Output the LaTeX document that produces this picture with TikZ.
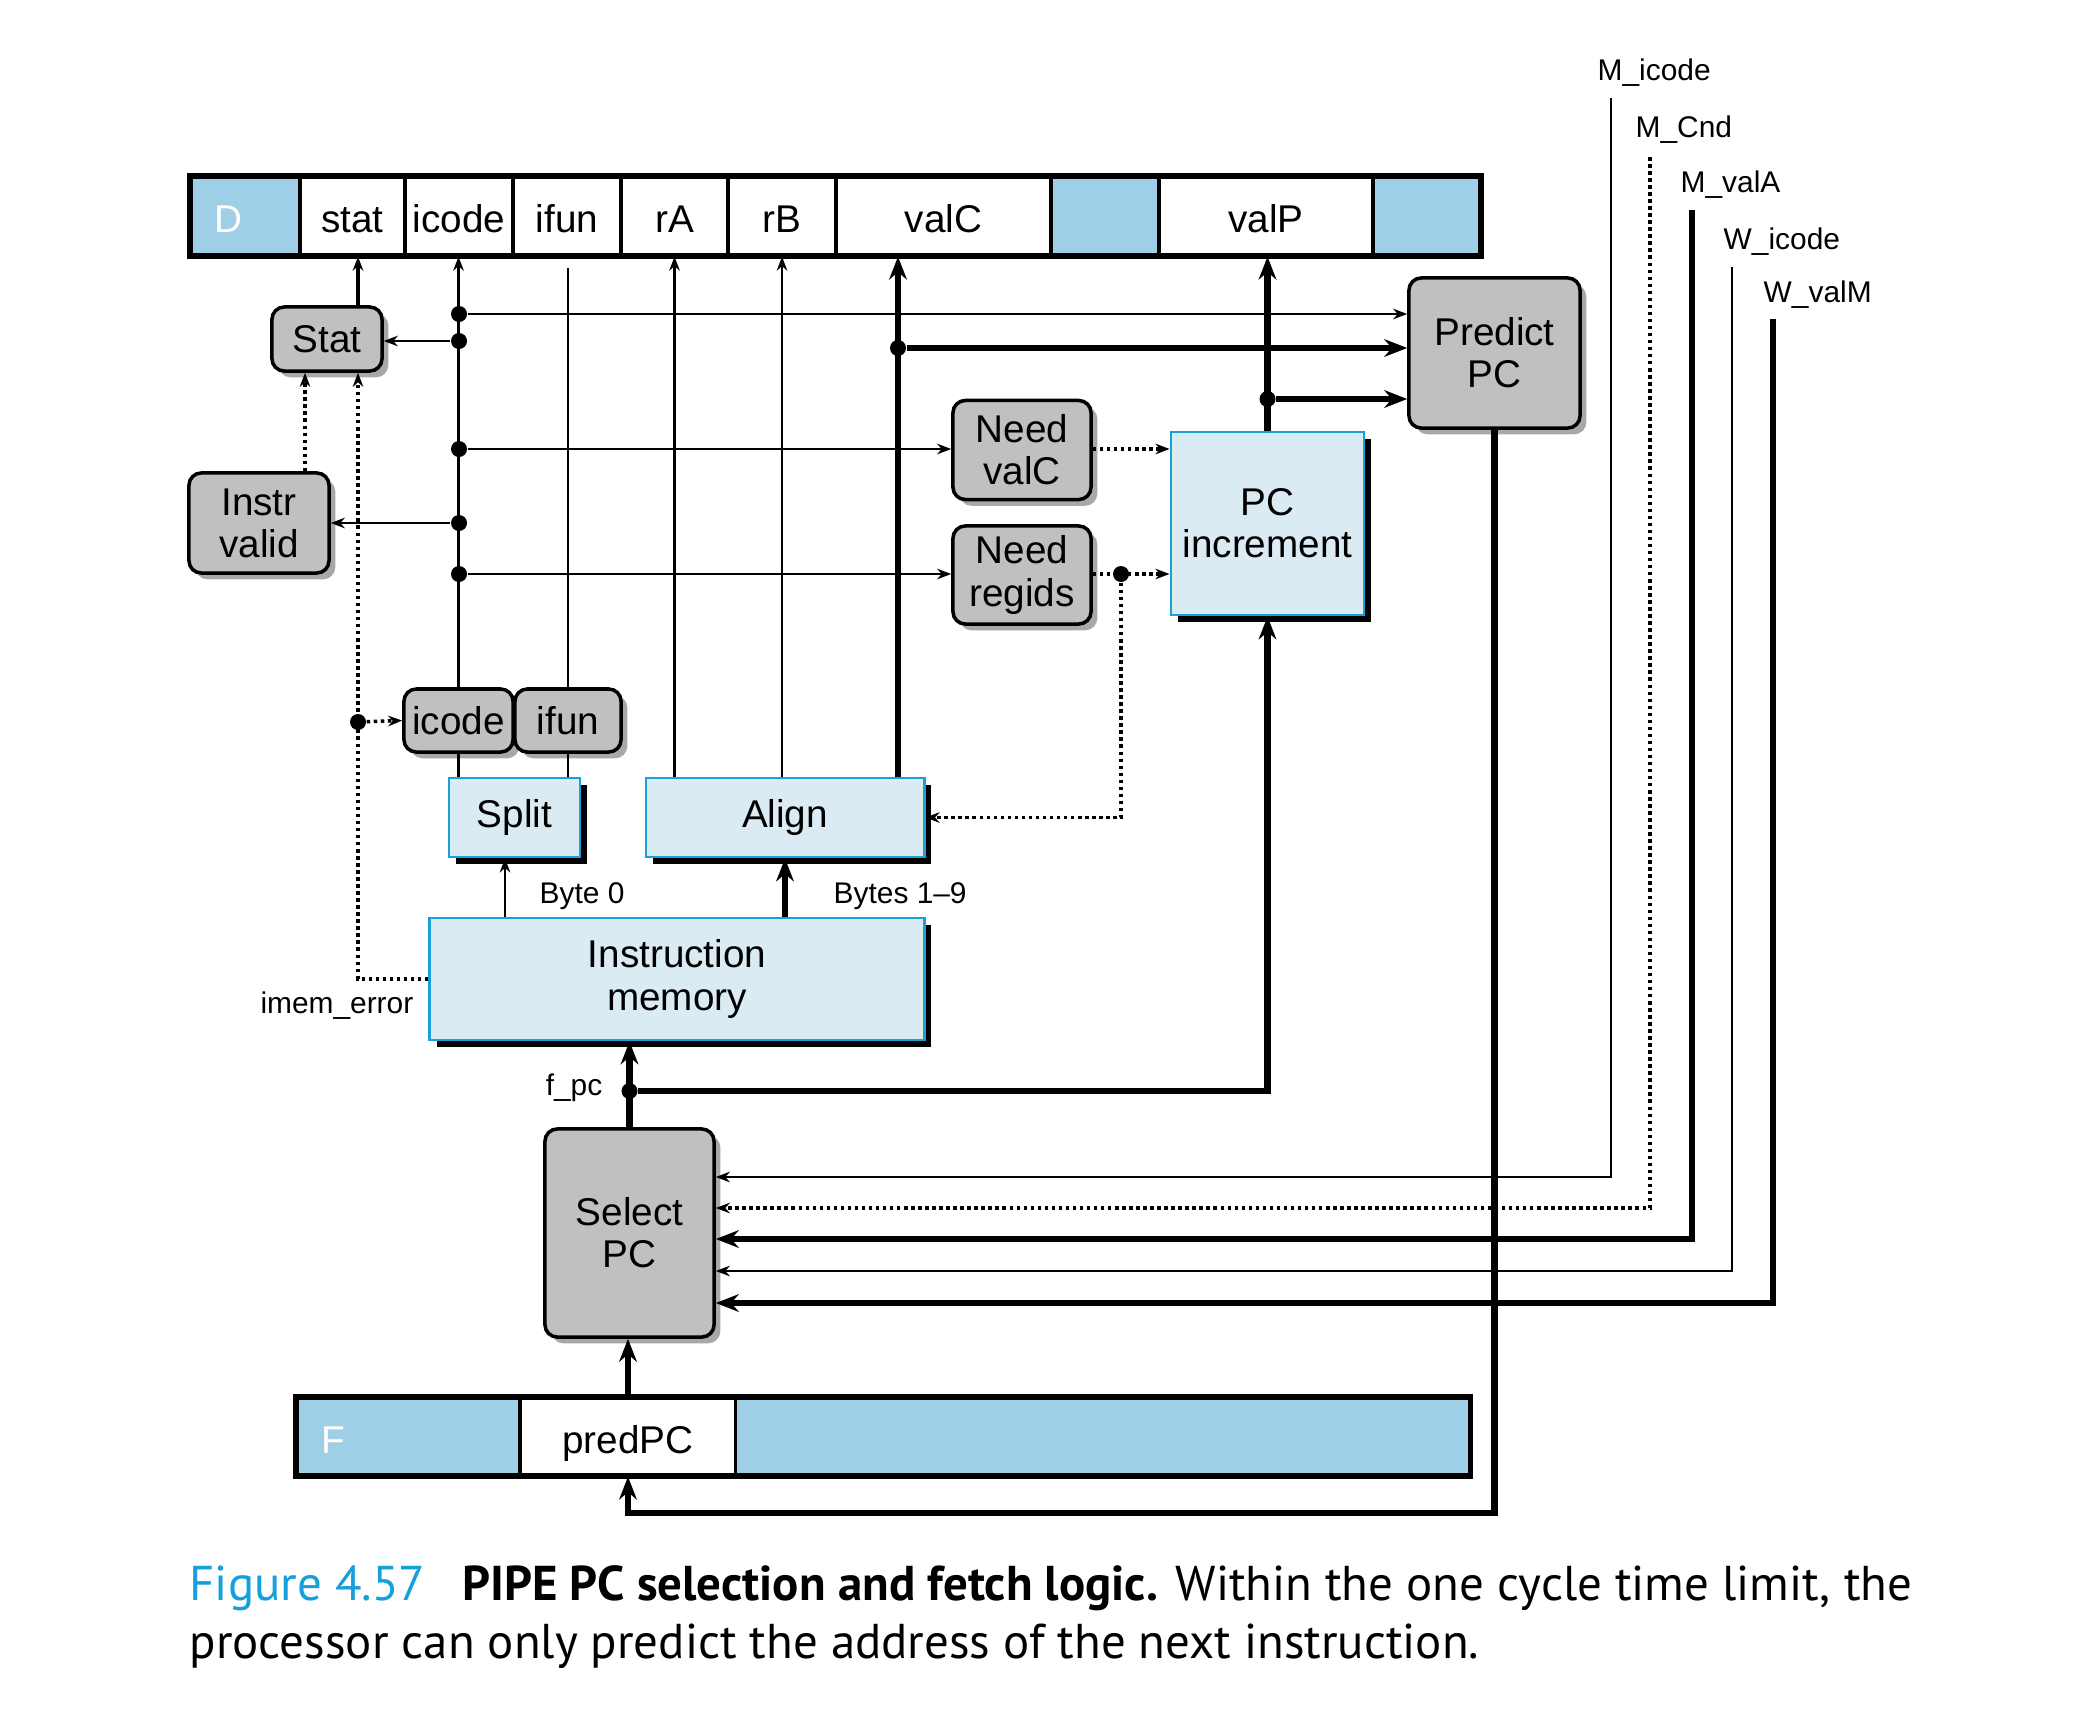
\documentclass[tikz,border=0pt]{standalone}
\usepackage{fontspec}
\setmainfont{Liberation Sans}
\newfontfamily\capfont{PT Sans}
\usetikzlibrary{arrows.meta,shadows}

\definecolor{regblue}{HTML}{9ECFE6}
\definecolor{logicfill}{HTML}{DAEBF3}
\definecolor{logicedge}{HTML}{1AA0D8}
\definecolor{ctlfill}{HTML}{C0C0C0}
\definecolor{ctlshade}{HTML}{A8A8A8}
\definecolor{figblue}{HTML}{15A0DB}

\begin{document}
\begin{tikzpicture}[x=0.01cm, y=-0.01cm,
  every node/.style={font=\fontsize{11}{12}\selectfont},
  cell/.style={draw, line width=0.9pt, inner sep=0pt, minimum height=0.78cm, text height=0.33cm, text depth=0cm},
  ctl/.style={draw, line width=1pt, rounded corners=3.5pt, fill=ctlfill, inner sep=0pt, align=center,
    drop shadow={shadow xshift=1.8pt, shadow yshift=-1.8pt, fill=ctlshade, opacity=1}},
  logic/.style={draw=logicedge, line width=0.8pt, fill=logicfill, inner sep=0pt, align=center,
    drop shadow={shadow xshift=2pt, shadow yshift=-2pt, fill=black, opacity=1}},
  junction/.style={circle, fill=black, inner sep=0pt, minimum size=0.16cm},
  sig/.style={font=\fontsize{8.5}{10}\selectfont, inner sep=0pt},
  wire/.style={line width=0.6pt, ->},
  bus/.style={line width=1.8pt, -{Stealth[length=6.5pt,width=5pt]}},
  ctrl/.style={line width=1pt, dash pattern=on 1pt off 1pt, ->},
  >={Stealth[length=4pt,width=3pt]}]
  \useasboundingbox (0,0) rectangle (2082,1724);

  \node[cell, fill=regblue, minimum width=1.09cm] (dD) at (245.5,216) {};
  \node[cell, draw=none, text=white] (dname) at (228,216) {D};
  \node[cell, fill=white, minimum width=1.05cm] (dstat) at (352.5,216) {stat};
  \node[cell, fill=white, minimum width=1.08cm] (dicode) at (459,216) {icode};
  \node[cell, fill=white, minimum width=1.08cm] (difun) at (567,216) {ifun};
  \node[cell, fill=white, minimum width=1.07cm] (drA) at (674.5,216) {rA};
  \node[cell, fill=white, minimum width=1.08cm] (drB) at (782,216) {rB};
  \node[cell, fill=white, minimum width=2.15cm] (dvalC) at (943.5,216) {valC};
  \node[cell, fill=regblue, minimum width=1.08cm] (dgap1) at (1105,216) {};
  \node[cell, fill=white, minimum width=2.14cm] (dvalP) at (1266,216) {valP};
  \node[cell, fill=regblue, minimum width=1.07cm] (dgap2) at (1426.5,216) {};
  \draw[line width=1.3pt] (dD.north west) rectangle (dgap2.south east);

  \node[cell, fill=regblue, minimum width=2.23cm, minimum height=0.77cm] (fF) at (408.5,1436.5) {};
  \node[cell, draw=none, text=white] (fname) at (333,1436.5) {F};
  \node[cell, fill=white, minimum width=2.16cm, minimum height=0.77cm] (fpred) at (628,1436.5) {predPC};
  \node[cell, fill=regblue, minimum width=7.33cm, minimum height=0.77cm] (frest) at (1102.5,1436.5) {};
  \draw[line width=1.3pt] (fF.north west) rectangle (frest.south east);

  \node[ctl, minimum width=1.1cm, minimum height=0.64cm] (stat) at (327,339) {Stat};
  \node[ctl, minimum width=1.4cm, minimum height=1cm] (ivalid) at (259,523) {Instr\\valid};
  \node[ctl, minimum width=1.38cm, minimum height=0.99cm] (nvalc) at (1022,450) {Need\\valC};
  \node[ctl, minimum width=1.38cm, minimum height=0.98cm] (nregids) at (1022,575) {Need\\regids};
  \node[ctl, minimum width=1.71cm, minimum height=1.5cm] (pred) at (1494.5,353) {Predict\\PC};
  \node[ctl, minimum width=1.09cm, minimum height=0.63cm] (icb) at (458.5,720.5) {icode};
  \node[ctl, minimum width=1.06cm, minimum height=0.63cm] (ifb) at (568,720.5) {ifun};
  \node[ctl, minimum width=1.69cm, minimum height=2.08cm] (sel) at (629.5,1233) {Select\\PC};

  \node[logic, minimum width=1.93cm, minimum height=1.83cm] (pcinc) at (1267.5,523.5) {PC\\increment};
  \node[logic, minimum width=1.31cm, minimum height=0.79cm] (split) at (514.5,817.5) {Split};
  \node[logic, minimum width=2.78cm, minimum height=0.79cm] (align) at (785,817.5) {Align};
  \node[logic, minimum width=4.94cm, minimum height=1.22cm] (imem) at (677,979) {Instruction\\memory};

  \node[sig, anchor=west] (lbyte0) at (539,896) {Byte 0};
  \node[sig, anchor=west] (lbytes) at (833,896) {Bytes 1--9};
  \node[sig, anchor=east] (lerr) at (414,1006) {imem\_error};
  \node[sig, anchor=east] (lfpc) at (603,1088) {f\_pc};
  \node[sig, anchor=west] (lmicode) at (1597,73) {M\_icode};
  \node[sig, anchor=west] (lmcnd) at (1635,130) {M\_Cnd};
  \node[sig, anchor=west] (lmvala) at (1680,185) {M\_valA};
  \node[sig, anchor=west] (lwicode) at (1723,242) {W\_icode};
  \node[sig, anchor=west] (lwvalm) at (1763,295) {W\_valM};

  \node[junction] (j1) at (459,314) {};
  \node[junction] (j2) at (459,341) {};
  \node[junction] (j3) at (459,449) {};
  \node[junction] (j4) at (459,523) {};
  \node[junction] (j5) at (459,574) {};
  \node[junction] (j6) at (898,348) {};
  \node[junction] (j7) at (1267.5,399) {};
  \node[junction] (j8) at (629.5,1091) {};
  \node[junction] (j9) at (1121,574) {};
  \node[junction] (j10) at (358,722) {};

  \coordinate (errx) at (358,0);
  \coordinate (ivx) at (305,0);
  \coordinate (valcx) at (898,0);
  \coordinate (b0x) at (505,0);
  \coordinate (ifunend) at (568,268);
  \coordinate (looppt) at (0,1513);
  \coordinate (micode) at (1611,98);
  \coordinate (mcnd) at (1650,157);
  \coordinate (mvala) at (1692,210);
  \coordinate (wicode) at (1732,267);
  \coordinate (wvalm) at (1773,319);

  \draw[line width=0.9pt, ->] (stat.north -| errx) -- (dstat.south -| errx);
  \draw[wire] (icb.north) -- (icb.north |- dicode.south);
  \draw[wire, -] (split.north -| icb) -- (icb.south);
  \draw[wire, -] (ifb.north) -- (ifunend);
  \draw[wire, -] (split.north -| ifb) -- (ifb.south);
  \draw[wire] (j1) -- (j1 -| pred.west);
  \draw[wire] (j2) -- (stat.east |- j2);
  \draw[wire] (j3) -- (j3 -| nvalc.west);
  \draw[wire] (j4) -- (j4 -| ivalid.east);
  \draw[wire] (j5) -- (j5 -| nregids.west);
  \draw[wire] (align.north -| drA) -- (drA.south);
  \draw[wire] (align.north -| drB) -- (drB.south);
  \draw[bus] (align.north -| valcx) -- (dvalC.south -| valcx);
  \draw[bus] (j6) -- (j6 -| pred.west);
  \draw[bus] (pcinc.north) -- (pcinc.north |- dvalP.south);
  \draw[bus] (j7) -- (j7 -| pred.west);
  \draw[ctrl] (nvalc.east |- j3) -- (j3 -| pcinc.west);
  \draw[ctrl] (nregids.east |- j9) -- (j9 -| pcinc.west);
  \draw[ctrl] (j9) |- (align.east);
  \draw[ctrl] (ivalid.north -| ivx) -- (stat.south -| ivx);
  \draw[ctrl] (imem.west) -| (stat.south -| errx);
  \draw[ctrl] (j10) -- (icb.west);
  \draw[wire] (imem.north -| b0x) -- (split.south -| b0x);
  \draw[bus] (imem.north -| align) -- (align.south);
  \draw[bus] (sel.north) -- (sel.north |- imem.south);
  \draw[bus] (j8) -| (pcinc.south);
  \draw[bus] (fpred.north) -- (fpred.north |- sel.south);
  \draw[bus] (pred.south) -- (pred.south |- looppt) -| (fpred.south);
  \draw[wire] (micode) |- (sel.east |- 0,1177);
  \draw[ctrl] (mcnd) |- (sel.east |- 0,1208);
  \draw[bus] (mvala) |- (sel.east |- 0,1239);
  \draw[wire] (wicode) |- (sel.east |- 0,1271);
  \draw[bus] (wvalm) |- (sel.east |- 0,1303);

  \node[anchor=base west, inner sep=0pt, font=\capfont\fontsize{13.9}{16}\selectfont] (cap1) at (189,1600)
    {\textcolor{figblue}{Figure 4.57}\hspace{0.75em}\textbf{PIPE PC selection and fetch logic.} Within the one cycle time limit, the};
  \node[anchor=base west, inner sep=0pt, font=\capfont\fontsize{13.9}{16}\selectfont] (cap2) at (189,1658)
    {processor can only predict the address of the next instruction.};
\end{tikzpicture}
\end{document}
